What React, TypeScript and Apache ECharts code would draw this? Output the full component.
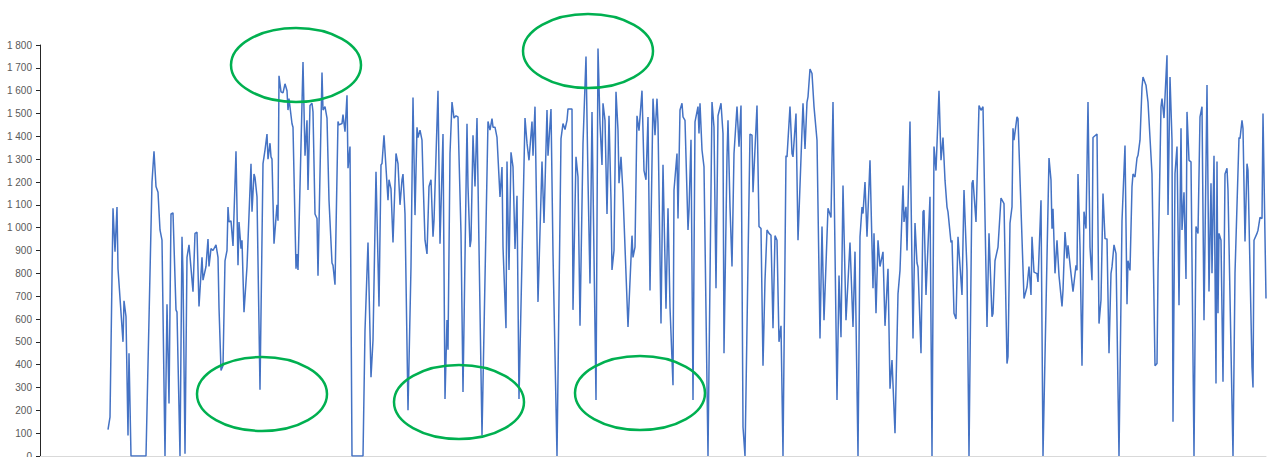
import React, { useEffect, useRef } from "react";
import * as echarts from "echarts";

// Empty days before the first measurement
const leadDays = 68;

// Day index (sample position) of each vertex of the series, and its value
const days: number[] = [
  0, 2, 5, 7, 9, 10, 15, 16, 18, 20, 21, 23, 38, 44, 46, 48, 50, 52, 54, 57,
  59, 61, 63, 65, 68, 69, 72, 74, 75, 77, 79, 81, 85, 87, 89, 91, 94, 95, 98, 100,
  101, 103, 105, 108, 110, 111, 113, 115, 117, 119, 120, 121, 123, 125, 128, 130, 131, 133, 134, 136,
  139, 143, 144, 146, 147, 149, 152, 155, 157, 159, 160, 162, 163, 164, 166, 169, 170, 171, 173, 175,
  177, 179, 180, 181, 184, 185, 188, 189, 190, 195, 197, 199, 200, 202, 204, 205, 207, 209, 210, 214,
  215, 217, 219, 221, 224, 225, 227, 230, 231, 234, 235, 237, 239, 240, 242, 244, 255, 257, 260, 263,
  265, 268, 271, 273, 274, 276, 280, 281, 283, 285, 288, 290, 292, 294, 295, 297, 300, 303, 305, 307,
  309, 310, 312, 314, 315, 317, 319, 321, 323, 325, 326, 330, 332, 335, 337, 339, 340, 342, 344, 346,
  348, 350, 353, 355, 359, 360, 362, 363, 365, 367, 369, 371, 374, 380, 382, 384, 385, 387, 389, 392,
  394, 395, 398, 399, 401, 403, 405, 407, 409, 411, 417, 419, 421, 424, 425, 427, 430, 434, 436, 439,
  440, 443, 445, 449, 453, 455, 457, 459, 460, 464, 465, 468, 470, 472, 475, 478, 480, 482, 484, 488,
  490, 492, 494, 495, 497, 499, 501, 503, 504, 506, 508, 510, 511, 513, 515, 520, 524, 525, 527, 529,
  531, 534, 536, 538, 540, 542, 545, 547, 549, 550, 553, 555, 558, 560, 562, 565, 566, 569, 570, 572,
  574, 575, 577, 580, 581, 583, 585, 587, 590, 591, 592, 594, 596, 600, 604, 606, 608, 610, 613, 615,
  616, 619, 620, 622, 624, 626, 629, 631, 633, 635, 637, 642, 644, 645, 649, 651, 653, 655, 657, 659,
  661, 663, 665, 667, 669, 671, 673, 675, 678, 679, 682, 684, 685, 688, 690, 695, 697, 699, 700, 702,
  704, 706, 709, 712, 714, 716, 720, 723, 725, 729, 731, 733, 735, 738, 742, 745, 747, 750, 752, 754,
  755, 757, 759, 762, 765, 766, 768, 770, 772, 775, 777, 780, 782, 784, 787, 790, 792, 795, 796, 798,
  799, 802, 805, 807, 809, 810, 813, 815, 816, 818, 822, 824, 826, 828, 831, 833, 835, 837, 839, 840,
  843, 844, 846, 848, 850, 854, 856, 859, 861, 864, 865, 868, 871, 873, 875, 879, 881, 884, 885, 887,
  890, 893, 896, 899, 900, 902, 904, 905, 906, 909, 910, 916, 919, 921, 923, 924, 926, 929, 930, 933,
  935, 941, 943, 944, 945, 947, 949, 951, 954, 955, 957, 959, 960, 963, 965, 968, 969, 970, 972, 974,
  976, 978, 980, 982, 984, 985, 989, 991, 993, 995, 997, 999, 1001, 1003, 1004, 1006, 1008, 1011, 1014, 1017,
  1019, 1020, 1022, 1024, 1025, 1027, 1029, 1030, 1032, 1034, 1035, 1038, 1040, 1044, 1047, 1049, 1050, 1053, 1054, 1056,
  1059, 1060, 1062, 1064, 1065, 1067, 1069, 1071, 1073, 1074, 1076, 1078, 1079, 1081, 1083, 1086, 1088, 1090, 1092, 1094,
  1096, 1099, 1101, 1103, 1104, 1106, 1108, 1109, 1110, 1111, 1113, 1115, 1117, 1119, 1120, 1125, 1127, 1131, 1132, 1134,
  1135, 1137, 1139, 1140, 1144, 1145, 1146, 1149, 1150, 1152, 1154, 1155, 1158,
];

const values: number[] = [
  115, 170, 1085, 895, 1090, 820, 500, 680, 610, 90, 450, 0, 0, 1200, 1335, 1180, 1155, 990, 945, 0,
  665, 230, 1060, 1065, 640, 630, 0, 960, 800, 10, 870, 925, 720, 975, 980, 655, 870, 770, 830, 950,
  830, 908, 900, 925, 870, 650, 375, 395, 855, 900, 1090, 1025, 1030, 920, 1335, 835, 1025, 908, 945, 630,
  830, 1280, 1070, 1235, 1220, 1135, 290, 1280, 1340, 1410, 1300, 1370, 1310, 1300, 930, 1100, 1030, 1665, 1595, 1590,
  1630, 1600, 1515, 1565, 1455, 1440, 820, 885, 815, 1725, 1315, 1470, 1165, 1535, 1545, 1507, 1060, 1040, 790, 1680,
  1515, 1530, 1480, 1120, 845, 835, 750, 1465, 1450, 1456, 1495, 1420, 1580, 1260, 1355, 0, 0, 550, 935, 345,
  507, 1245, 655, 1275, 1281, 1405, 1120, 1210, 1170, 935, 1325, 1280, 1100, 1210, 1235, 1060, 200, 830, 1570, 1055,
  1440, 1395, 1427, 1383, 1220, 945, 885, 1180, 1210, 960, 1030, 1600, 930, 1410, 250, 595, 465, 1325, 1550, 1480,
  1490, 1485, 975, 280, 1455, 1180, 915, 945, 1405, 1180, 1480, 915, 90, 1465, 1427, 1478, 1440, 1440, 1395, 1135,
  1266, 916, 560, 1290, 815, 1330, 1266, 907, 1140, 250, 1480, 1370, 1295, 1465, 1315, 1530, 675, 1290, 1020, 1515,
  1315, 1520, 885, 0, 1390, 1456, 1430, 1470, 1520, 1520, 640, 1310, 1222, 570, 1370, 1750, 1210, 755, 1507, 245,
  1785, 1456, 1275, 1545, 1470, 1060, 1490, 1120, 815, 900, 1595, 1427, 1195, 1310, 1150, 565, 965, 870, 915, 1490,
  1425, 1600, 1250, 1210, 1485, 725, 1565, 1405, 1565, 1456, 580, 1275, 645, 1085, 650, 310, 1165, 1325, 1040, 1515,
  1545, 1485, 1470, 990, 1076, 1385, 245, 1463, 1530, 1412, 1545, 1340, 1266, 0, 1550, 1440, 735, 1490, 1545, 1412,
  450, 1310, 1470, 1091, 830, 1325, 1530, 1355, 1535, 127, 0, 1410, 1405, 1155, 1535, 1005, 996, 395, 770, 990,
  975, 967, 560, 965, 945, 500, 570, 0, 1315, 1310, 1530, 1325, 1310, 1500, 945, 1545, 1345, 1550, 1573, 1695,
  1675, 1530, 1383, 515, 1005, 595, 1085, 1045, 1550, 245, 790, 520, 1185, 595, 935, 565, 895, 0, 960, 1090,
  1062, 1200, 960, 1295, 735, 975, 625, 945, 830, 894, 570, 820, 295, 420, 100, 710, 813, 1185, 1025, 1091,
  900, 1465, 515, 1020, 845, 828, 450, 1070, 1076, 705, 1135, 0, 1355, 1250, 1600, 1295, 1395, 1208, 1090, 1069,
  935, 945, 625, 600, 960, 705, 1165, 813, 0, 1195, 1208, 1025, 1535, 1514, 1530, 565, 975, 610, 624, 855,
  915, 1130, 1105, 405, 435, 1020, 1091, 1435, 1383, 1485, 1478, 690, 740, 830, 705, 960, 805, 799, 762, 1120,
  0, 1305, 1208, 995, 1083, 800, 945, 790, 655, 726, 981, 865, 923, 799, 720, 835, 813, 1235, 916, 395,
  1070, 996, 1550, 915, 770, 1395, 1410, 580, 683, 1150, 952, 950, 450, 800, 828, 925, 886, 0, 1030, 1360,
  665, 855, 813, 1180, 1235, 1222, 1305, 1317, 1383, 1615, 1660, 1624, 1550, 1235, 395, 405, 800, 1529, 1565, 1480,
  1755, 1055, 1660, 1383, 150, 1237, 1355, 660, 1435, 990, 1155, 775, 1507, 1295, 1288, 0, 1005, 974, 1485, 1530,
  595, 1625, 720, 1195, 800, 1315, 317, 1290, 625, 975, 945, 325, 1235, 1260, 1164, 0, 800, 1395, 1390, 1470,
  1434, 940, 1280, 1251, 390, 300, 945, 975, 989, 1045, 1040, 1500, 690,
];

const yTicks: number[] = [0, 100, 200, 300, 400, 500, 600, 700, 800, 900, 1000, 1100, 1200, 1300, 1400, 1500, 1600, 1700, 1800];

const fmt = (v: number): string =>
  v >= 1000 ? `${Math.floor(v / 1000)} ${String(v % 1000).padStart(3, "0")}` : String(v);

export default function App() {
  const ref = useRef<HTMLDivElement>(null);
  useEffect(() => {
    document.body.style.margin = "0";
    if (!ref.current) return;
    const chart = echarts.init(ref.current, undefined, { renderer: "svg" });
    const data = days.map((d, i) => [d + leadDays, values[i]]);
    const lastDay = days[days.length - 1] + leadDays;
    const ellipse = (cx: number, cy: number) => ({
      type: "ellipse",
      shape: { cx, cy, rx: 65, ry: 37 },
      style: { fill: "none", stroke: "#00B050", lineWidth: 2.5 },
      z: 100,
    });
    chart.setOption({
      animation: false,
      backgroundColor: "#ffffff",
      grid: {
        left: 40,
        right: 1,
        top: 45,
        bottom: 1,
        containLabel: false,
        outerBoundsMode: "none",
      },
      xAxis: {
        type: "value",
        min: 0,
        max: lastDay,
        axisLine: { show: true, onZero: false, lineStyle: { color: "#D9D9D9", width: 1 } },
        axisTick: { show: false },
        axisLabel: { show: false },
        splitLine: { show: false },
      },
      yAxis: {
        type: "value",
        position: "left",
        min: yTicks[0],
        max: yTicks[yTicks.length - 1],
        interval: 100,
        axisLine: { show: true, onZero: false, lineStyle: { color: "#262626", width: 1 } },
        axisTick: { show: true, length: 4, inside: false, lineStyle: { color: "#262626", width: 1 } },
        axisLabel: {
          formatter: (v: number) => fmt(v),
          color: "#595959",
          fontSize: 10,
          fontFamily: "Liberation Sans, Arial, sans-serif",
          margin: 8,
        },
        splitLine: { show: false },
      },
      series: [
        {
          type: "line",
          data,
          symbol: "none",
          lineStyle: { color: "#4472C4", width: 1.5 },
          itemStyle: { color: "#4472C4" },
          clip: true,
        },
      ],
      graphic: [
        ellipse(296, 65),
        ellipse(588, 51),
        ellipse(262, 394),
        ellipse(459, 402),
        ellipse(640, 393),
      ],
    });
    return () => chart.dispose();
  }, []);
  return <div ref={ref} style={{ width: 1267, height: 457 }} />;
}
